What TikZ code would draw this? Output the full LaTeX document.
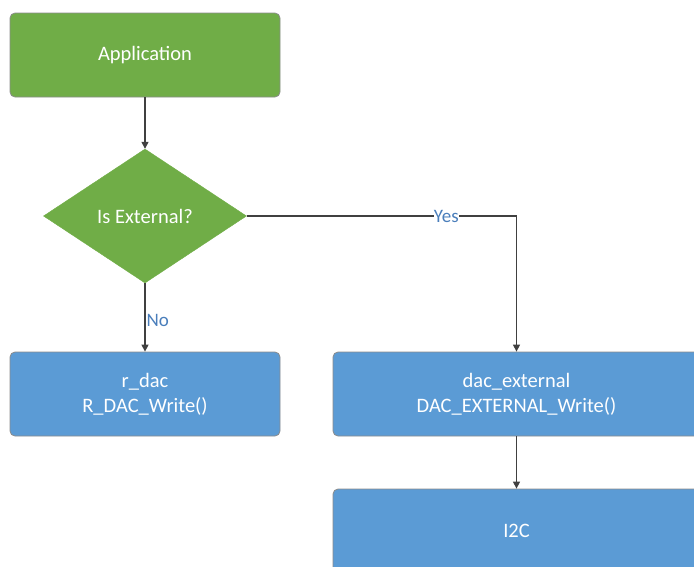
\documentclass[tikz,border=0pt]{standalone}
\usepackage{fontspec}
\setmainfont{Carlito}
\usetikzlibrary{shapes.geometric,arrows.meta}
\definecolor{appgreen}{HTML}{70AD47}
\definecolor{boxblue}{HTML}{5B9BD5}
\definecolor{lblblue}{HTML}{4A7EBB}
\definecolor{edgegray}{HTML}{8C8C8C}
\begin{document}
\begin{tikzpicture}[x=1pt,y=-1pt,
  box/.style={draw=edgegray,line width=0.8pt,rounded corners=5pt,text=white,align=center,
     font=\fontsize{20.5}{25}\selectfont,minimum width=270pt,minimum height=84pt,inner sep=0pt},
  greenbox/.style={box,fill=appgreen},
  bluebox/.style={box,fill=boxblue},
  decision/.style={diamond,fill=appgreen,draw=appgreen,text=white,font=\fontsize{20.5}{25}\selectfont,
     minimum width=203pt,minimum height=134pt,inner sep=0pt,aspect=1.515},
  conn/.style={draw=black!75,line width=1.3pt,-{Triangle[length=7pt,width=7pt]}},
  lbl/.style={text=lblblue,font=\fontsize{19}{22}\selectfont,inner sep=1pt}]
\useasboundingbox (0,0) rectangle (694,566);
\begin{scope}
\clip (0,0) rectangle (694,566);
\node[greenbox] (app) at (145,55) {Application};
\node[decision] (dec) at (145,216) {Is External?};
\node[bluebox] (rdac) at (145,394) {r\_dac\\R\_DAC\_Write()};
\node[bluebox,minimum width=367pt] (dext) at (516.5,394) {dac\_external\\DAC\_EXTERNAL\_Write()};
\node[bluebox,minimum width=367pt] (i2c) at (516.5,531) {I2C};
\draw[conn] (app) -- (dec);
\draw[conn] (dec) -- node[lbl,right,pos=0.55]{No} (rdac);
\draw[conn] (dec.east) -- node[lbl,fill=white,pos=0.74,inner sep=0pt]{Yes} (dext.north |- dec.east) -- (dext);
\draw[conn] (dext) -- (i2c);
\end{scope}
\end{tikzpicture}
\end{document}
